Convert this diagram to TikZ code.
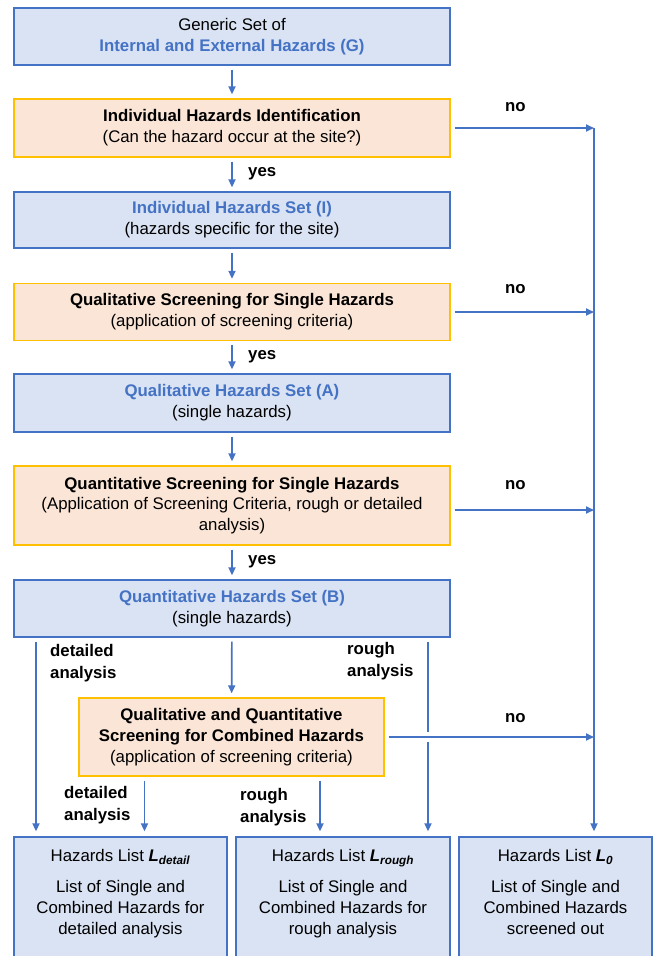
\documentclass[tikz,border=0pt]{standalone}
\usepackage{fontspec}
\setmainfont{Liberation Sans}
\usetikzlibrary{arrows.meta}

\definecolor{hzblue}{HTML}{4472C4}
\definecolor{hzfill}{HTML}{DAE3F3}
\definecolor{scfill}{HTML}{FBE5D6}
\definecolor{scline}{HTML}{FFC000}

\begin{document}
\begin{tikzpicture}[x=1pt, y=-1pt,
  font=\fontsize{16.8}{20.8}\selectfont,
  setbox/.style={align=center, draw=hzblue, fill=hzfill, line width=1.3pt, inner sep=0pt, minimum width=436pt},
  screenbox/.style={align=center, draw=scline, fill=scfill, line width=1.3pt, inner sep=0pt, minimum width=436pt},
  listbox/.style={align=center, draw=hzblue, fill=hzfill, line width=1.3pt, inner sep=0pt, minimum height=122pt, text depth=12pt},
  flow/.style={draw=hzblue, line width=1.7pt, -{Triangle[length=8pt, width=7pt]}, shorten <=4pt, shorten >=4pt},
  plain/.style={draw=hzblue, line width=1.7pt, shorten <=4pt},
  lab/.style={font=\fontsize{16.8}{21.5}\selectfont\bfseries, align=left, anchor=west, inner sep=0pt}]

  \useasboundingbox (0,0) rectangle (656,956);

  \node[setbox, minimum height=57pt] (G) at (232,36.5) {Generic Set of\\ \textcolor{hzblue}{\textbf{Internal and External Hazards (G)}}};
  \node[screenbox, minimum height=58pt] (ID) at (232,128) {\textbf{Individual Hazards Identification}\\ (Can the hazard occur at the site?)};
  \node[setbox, minimum height=56pt] (I) at (232,220) {\textcolor{hzblue}{\textbf{Individual Hazards Set (I)}}\\ (hazards specific for the site)};
  \node[screenbox, minimum height=57pt] (QS) at (232,312) {\textbf{Qualitative Screening for Single Hazards}\\ (application of screening criteria)};
  \node[setbox, minimum height=58pt] (A) at (232,403) {\textcolor{hzblue}{\textbf{Qualitative Hazards Set (A)}}\\ (single hazards)};
  \node[screenbox, minimum height=79pt] (QnS) at (232,505.5) {\textbf{Quantitative Screening for Single Hazards}\\ (Application of Screening Criteria, rough or detailed\\ analysis)};
  \node[setbox, minimum height=57pt] (B) at (232,608.5) {\textcolor{hzblue}{\textbf{Quantitative Hazards Set (B)}}\\ (single hazards)};
  \node[screenbox, minimum width=305pt, minimum height=78pt] (C) at (231.5,737) {\textbf{Qualitative and Quantitative}\\ \textbf{Screening for Combined Hazards}\\ (application of screening criteria)};

  \node[listbox, minimum width=213pt] (Ld) at (120.5,898) {Hazards List \textbf{\textit{L}\textsubscript{\textit{detail}}}\\[10pt] List of Single and\\ Combined Hazards for\\ detailed analysis};
  \node[listbox, minimum width=214pt] (Lr) at (343,898) {Hazards List \textbf{\textit{L}\textsubscript{\textit{rough}}}\\[10pt] List of Single and\\ Combined Hazards for\\ rough analysis};
  \node[listbox, minimum width=193pt] (L0) at (555.5,898) {Hazards List \textbf{\textit{L}\textsubscript{\textit{0}}}\\[10pt] List of Single and\\ Combined Hazards\\ screened out};

  % labels
  \node[lab] (yes1) at (248,174) {yes};
  \node[lab] (yes2) at (248,357) {yes};
  \node[lab] (yes3) at (248,562) {yes};
  \node[lab] (no1) at (505,107) {no};
  \node[lab] (no2) at (505,289) {no};
  \node[lab] (no3) at (505,485) {no};
  \node[lab] (no4) at (505,718) {no};
  \node[lab] (det1) at (50,663) {detailed\\ analysis};
  \node[lab] (rou1) at (347,661) {rough\\ analysis};
  \node[lab] (det2) at (64,805) {detailed\\ analysis};
  \node[lab] (rou2) at (240,807) {rough\\ analysis};

  % points on the right hand line
  \coordinate (n1) at (594,128);
  \coordinate (n2) at (594,312);
  \coordinate (n3) at (594,510);
  \coordinate (n4) at (594,737);
  \coordinate (gapT) at (428,732);
  \coordinate (gapB) at (428,742);

  \draw[flow] (G) -- (ID);
  \draw[flow] (ID) -- (I);
  \draw[flow] (I) -- (QS);
  \draw[flow] (QS) -- (A);
  \draw[flow] (A) -- (QnS);
  \draw[flow] (QnS) -- (B);
  \draw[flow] (B) -- (C);

  \draw[flow, shorten >=5pt] ([xshift=-196pt]B.south) -- ([xshift=-84.5pt]Ld.north);
  \draw[plain] ([xshift=196pt]B.south) -- (gapT);
  \draw[flow, shorten <=0pt, shorten >=5pt] (gapB) -- ([xshift=85pt]Lr.north);
  \draw[flow, shorten >=5pt] ([xshift=-87pt]C.south) -- ([xshift=24pt]Ld.north);
  \draw[flow, shorten >=5pt] ([xshift=88.5pt]C.south) -- ([xshift=-23pt]Lr.north);

  \draw[flow, shorten >=0pt] (ID.east) -- (n1);
  \draw[flow, shorten >=0pt] (QS.east) -- (n2);
  \draw[flow, shorten >=0pt] ([yshift=-4.5pt]QnS.east) -- (n3);
  \draw[flow, shorten >=0pt] (C.east) -- (n4);
  \draw[flow, shorten <=0pt, shorten >=5pt] (n1) -- ([xshift=38.5pt]L0.north);

\end{tikzpicture}
\end{document}
